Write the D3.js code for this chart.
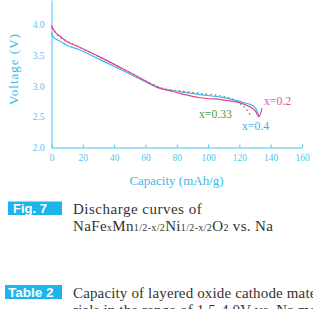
<!DOCTYPE html>
<html>
<head>
<meta charset="utf-8">
<script src="https://cdn.jsdelivr.net/npm/d3@7"></script>
<style>
  body { margin: 0; background: #fff; }
  svg { display: block; }
  .axis path, .axis line { stroke: #4dbfee; }
  .axis text { fill: #55c3ef; font-family: "Liberation Serif", serif; font-size: 9.5px; }
</style>
</head>
<body>
<svg id="chart" width="313" height="309"></svg>
<script>
// capacity (mAh/g) and voltage (V)
var capX02 = [0, 1, 3, 5.4, 10, 18, 31, 44, 56, 63, 69, 76, 82, 95, 108, 114, 120, 127, 130, 132.5, 134.4];
var volX02 = [3.99, 3.93, 3.86, 3.81, 3.72, 3.63, 3.47, 3.30, 3.14, 3.04, 2.97, 2.92, 2.88, 2.81, 2.78, 2.76, 2.73, 2.66, 2.60, 2.50, 2.64];

var capX033 = [0, 5, 10, 18, 31, 44, 56, 69, 76, 82, 95, 108, 114, 120, 124, 127];
var volX033 = [3.95, 3.80, 3.73, 3.63, 3.47, 3.30, 3.14, 2.98, 2.94, 2.92, 2.88, 2.84, 2.80, 2.72, 2.64, 2.52];

var capX04 = [0, 1, 3, 5.4, 10, 18, 31, 44, 56, 63, 69, 76, 82, 95, 108, 114, 120, 127, 130, 131.5, 132.5];
var volX04 = [3.87, 3.80, 3.76, 3.73, 3.66, 3.59, 3.43, 3.27, 3.12, 3.03, 2.96, 2.93, 2.91, 2.86, 2.82, 2.79, 2.75, 2.70, 2.65, 2.58, 2.50];

var xTicks = [0, 20, 40, 60, 80, 100, 120, 140, 160];
var yTicks = [2.0, 2.5, 3.0, 3.5, 4.0];

var svg = d3.select("#chart");

var x = d3.scaleLinear().domain([0, 160]).range([51.5, 302]);
var y = d3.scaleLinear().domain([2, 4.4]).range([147.5, 0]);

svg.append("g")
    .attr("class", "axis")
    .attr("transform", "translate(0,147.5)")
    .call(d3.axisBottom(x).tickValues(xTicks).tickSizeInner(-3).tickSizeOuter(0).tickPadding(7));

svg.append("g")
    .attr("class", "axis")
    .attr("transform", "translate(51.5,0)")
    .call(d3.axisLeft(y).tickValues(yTicks).tickFormat(d3.format(".1f")).tickSizeInner(0).tickSizeOuter(0).tickPadding(7));

var line = d3.line()
    .x(function(d) { return x(d[0]); })
    .y(function(d) { return y(d[1]); })
    .curve(d3.curveCatmullRom);

function pairs(cs, vs) { return cs.map(function(c, i) { return [c, vs[i]]; }); }

svg.append("path")
    .datum(pairs(capX04, volX04))
    .attr("fill", "none").attr("stroke", "#3fb7ea").attr("stroke-width", 1.2)
    .attr("d", line);

svg.append("path")
    .datum(pairs(capX033, volX033))
    .attr("fill", "none").attr("stroke", "#6f8669").attr("stroke-width", 1.3)
    .attr("stroke-dasharray", "1.5,3")
    .attr("d", line);

svg.append("path")
    .datum(pairs(capX02, volX02))
    .attr("fill", "none").attr("stroke", "#e8428f").attr("stroke-width", 1.2)
    .attr("d", line);

// series labels
var lab = svg.append("g").style("font-family", "'Liberation Serif', serif").style("font-size", "11.7px");
lab.append("text").attr("x", 264).attr("y", 105).attr("fill", "#e8509a").text("x=0.2");
lab.append("text").attr("x", 199).attr("y", 118).attr("fill", "#4f9a4f").text("x=0.33");
lab.append("text").attr("x", 242).attr("y", 130).attr("fill", "#3ab2e8").text("x=0.4");

// axis titles
svg.append("text")
    .attr("x", 176.5).attr("y", 185)
    .attr("text-anchor", "middle")
    .attr("fill", "#3cb9ea")
    .style("font-family", "'Liberation Serif', serif").style("font-size", "13px")
    .text("Capacity (mAh/g)");

svg.append("text")
    .attr("transform", "translate(18,69) rotate(-90)")
    .attr("text-anchor", "middle")
    .attr("fill", "#3cb9ea")
    .style("font-family", "'Liberation Serif', serif").style("font-size", "13px")
    .style("letter-spacing", "1px")
    .text("Voltage (V)");

// caption boxes
var cap = svg.append("g");
cap.append("rect").attr("x", 8).attr("y", 201.5).attr("width", 54).attr("height", 13.5).attr("fill", "#1cb4ea");
cap.append("text").attr("x", 13).attr("y", 212.5).attr("fill", "#fff")
    .style("font-family", "'Liberation Sans', sans-serif").style("font-weight", "bold").style("font-size", "13px")
    .text("Fig. 7");
cap.append("text").attr("x", 73).attr("y", 214).attr("fill", "#333")
    .style("font-family", "'Liberation Serif', serif").style("font-size", "15px").style("letter-spacing", "0.5px")
    .text("Discharge curves of");

var f = cap.append("text").attr("x", 73).attr("y", 231).attr("fill", "#333")
    .style("font-family", "'Liberation Serif', serif").style("font-size", "15px").style("letter-spacing", "0.35px");
var parts = [["NaFe", 0], ["x", 1], ["Mn", 0], ["1/2-x/2", 1], ["Ni", 0], ["1/2-x/2", 1], ["O", 0], ["2", 1], [" vs. Na", 0]];
parts.forEach(function(p) {
    f.append("tspan").style("font-size", p[1] ? "10px" : "15px").text(p[0]);
});

cap.append("rect").attr("x", 5).attr("y", 285).attr("width", 57).attr("height", 14).attr("fill", "#1cb4ea");
cap.append("text").attr("x", 8).attr("y", 297).attr("fill", "#fff")
    .style("font-family", "'Liberation Sans', sans-serif").style("font-weight", "bold").style("font-size", "13.5px")
    .text("Table 2");
cap.append("text").attr("x", 73).attr("y", 298).attr("fill", "#333")
    .style("font-family", "'Liberation Serif', serif").style("font-size", "15px").style("letter-spacing", "0.15px")
    .text("Capacity of layered oxide cathode materials");
cap.append("text").attr("x", 73).attr("y", 315).attr("fill", "#333")
    .style("font-family", "'Liberation Serif', serif").style("font-size", "15px").style("letter-spacing", "0.15px")
    .text("rials in the range of 1.5-4.0V vs. Na metal");
</script>
</body>
</html>
